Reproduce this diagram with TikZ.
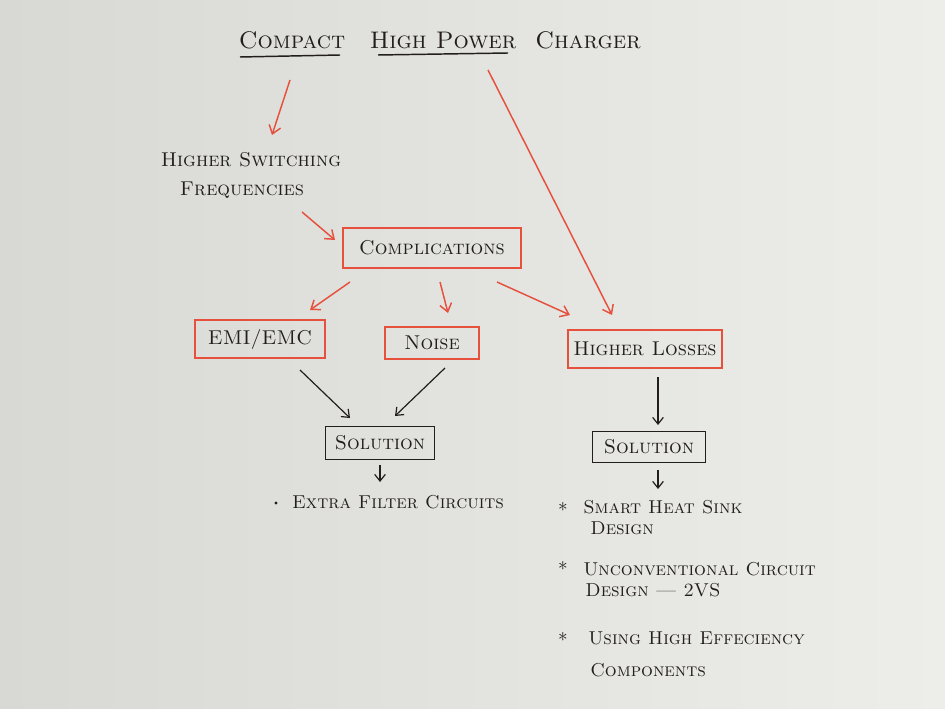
\documentclass[tikz,border=0pt]{standalone}
\usepackage{graphicx}
\usetikzlibrary{arrows.meta,calc}
\definecolor{boardL}{HTML}{D8D9D5}
\definecolor{boardR}{HTML}{EDEDEA}
\definecolor{pen}{HTML}{E6503D}
\definecolor{ink}{HTML}{221E1B}
\tikzset{
 hw/.style={font=\fontsize{15}{18}\selectfont\scshape, text=ink, inner sep=0pt},
 small/.style={font=\fontsize{14}{17}\selectfont\scshape},
 big/.style={font=\fontsize{18}{22}\selectfont\scshape},
 redbox/.style={draw=pen, line width=1.7pt, inner sep=0pt},
 blackbox/.style={draw=ink, line width=1.1pt, inner sep=0pt},
 redarrow/.style={draw=pen, line width=1.1pt, -{Straight Barb[length=6pt,width=9pt]}},
 blackarrow/.style={draw=ink, line width=0.9pt, -{Straight Barb[length=5pt,width=8pt]}},
 underl/.style={draw=ink, line width=1.1pt},
}
\begin{document}
\begin{tikzpicture}[x=0.75pt,y=-0.75pt]
\shade[left color=boardL,right color=boardR] (0,0) rectangle (945,709);
\useasboundingbox (0,0) rectangle (945,709);
% title
\node[hw,big] (compact) at (292,40) {Compact};
\node[hw,big] (highpower) at (443,40) {High Power};
\node[hw,big] (charger) at (588,40) {Charger};
\draw[underl] ($(compact)+(-52,17)$) -- ($(compact)+(48,15)$);
\draw[underl] ($(highpower)+(-65,15)$) -- ($(highpower)+(65,13)$);
% left branch
\node[hw] (hsf1) at (251,160) {Higher Switching};
\node[hw] (hsf2) at (242,190) {Frequencies};
\node[hw,redbox,minimum width=134pt,minimum height=30pt] (comp) at (432,248) {Complications};
\node[hw,redbox,minimum width=97pt,minimum height=28pt] (emi) at (260,339) {EMI/EMC};
\node[hw,redbox,minimum width=70pt,minimum height=24pt] (noise) at (432,343) {Noise};
\node[hw,redbox,minimum width=115pt,minimum height=28pt] (losses) at (645,349) {Higher Losses};
\node[hw,blackbox,minimum width=82pt,minimum height=25pt] (sol1) at (380,443) {Solution};
\node[hw,blackbox,minimum width=85pt,minimum height=23pt] (sol2) at (649,447) {Solution};
\node[hw,small] (filter) at (398,502) {Extra Filter Circuits};
\node[circle,fill=ink,inner sep=0.8pt] (dot) at (276,503) {};
% items
\node[hw] (b1) at (563,507) {$\ast$};
\node[hw] (b2) at (563,566) {$\ast$};
\node[hw] (b3) at (563,637) {$\ast$};
\node[hw,small,anchor=west] (i1a) at (583,507) {Smart Heat Sink};
\node[hw,small,anchor=west] (i1b) at (590,528) {Design};
\node[hw,small,anchor=west] (i2a) at (583,569) {Unconventional Circuit};
\node[hw,small,anchor=west] (i2b) at (585,590) {Design --- 2VS};
\node[hw,small,anchor=west] (i3a) at (588,638) {Using High Effeciency};
\node[hw,small,anchor=west] (i3b) at (590,670) {Components};
% arrows
\draw[redarrow] ($(compact)+(-2,40)$) -- ($(hsf1)+(21,-25)$);
\draw[redarrow] ($(highpower)+(45,30)$) -- ($(losses)+(-33,-34)$);
\draw[redarrow] ($(hsf2)+(60,22)$) -- ($(comp)+(-97,-8)$);
\draw[redarrow] ($(comp)+(-82,34)$) -- ($(emi)+(50,-29)$);
\draw[redarrow] ($(comp)+(8,34)$) -- ($(noise)+(16,-30)$);
\draw[redarrow] ($(comp)+(65,34)$) -- ($(losses)+(-75,-34)$);
\draw[blackarrow] ($(emi)+(40,31)$) -- ($(sol1)+(-30,-25)$);
\draw[blackarrow] ($(noise)+(13,25)$) -- ($(sol1)+(15,-27)$);
\draw[blackarrow] ($(sol1)+(0,22)$) -- ($(filter)+(-18,-20)$);
\draw[blackarrow] ($(losses)+(13,28)$) -- ($(sol2)+(9,-22)$);
\draw[blackarrow] ($(sol2)+(9,23)$) -- ($(i1a.west)+(75,-18)$);
\end{tikzpicture}
\end{document}
